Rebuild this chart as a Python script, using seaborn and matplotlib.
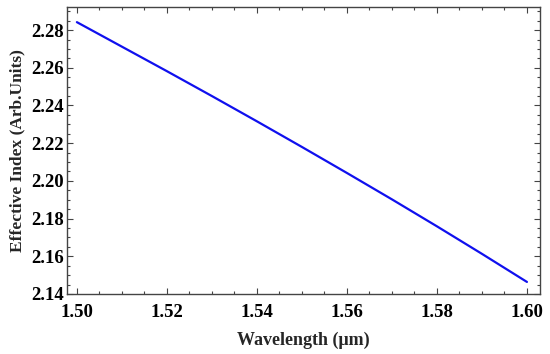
import numpy as np
import pandas as pd
import matplotlib
matplotlib.use('Agg')
import matplotlib.pyplot as plt
import seaborn as sns
from matplotlib.ticker import MultipleLocator

# data
wavelength = [1.50, 1.51, 1.52, 1.53, 1.54, 1.55, 1.56, 1.57, 1.58, 1.59, 1.60]
eff_index = [2.2842, 2.2712, 2.2582, 2.2450, 2.2316, 2.2180, 2.2042, 2.1902, 2.1759, 2.1613, 2.1464]

df = pd.DataFrame({'wl': wavelength, 'neff': eff_index})

sns.set_style('ticks')
plt.rcParams['font.family'] = ['Liberation Serif', 'DejaVu Serif']
plt.rcParams['font.weight'] = 'bold'

fig = plt.figure(figsize=(5.5, 3.54), dpi=100)
ax = fig.add_axes([0.1218, 0.1695, 0.86, 0.8105])

sns.lineplot(data=df, x='wl', y='neff', color='#1010ee', linewidth=1.6, ax=ax)

ax.set_xlim(1.4978, 1.6029)
ax.set_ylim(2.14, 2.2922)
ax.xaxis.set_major_locator(MultipleLocator(0.02))
ax.xaxis.set_minor_locator(MultipleLocator(0.005))
ax.yaxis.set_major_locator(MultipleLocator(0.02))
ax.yaxis.set_minor_locator(MultipleLocator(0.005))
ax.set_xticklabels([f'{v:.2f}' for v in ax.get_xticks()])
ax.set_yticklabels([f'{v:.2f}' for v in ax.get_yticks()])

for s in ax.spines.values():
    s.set_visible(True)
    s.set_color('#444444')
    s.set_linewidth(1.0)

ax.tick_params(which='both', direction='in', top=True, right=True, colors='#444444',
               labelcolor='black', labelsize=13.5, width=0.8)
ax.tick_params(which='major', length=4.5)
ax.tick_params(which='minor', length=2.5)
ax.tick_params(axis='x', which='major', pad=7)
ax.tick_params(axis='y', which='major', pad=2.5)

ax.set_xlabel('Wavelength (μm)', fontsize=13, fontweight='bold', labelpad=8)
ax.set_ylabel('Effective Index (Arb.Units)', fontsize=12.5, fontweight='bold', labelpad=4)

fig.savefig('out.png', dpi=100)
